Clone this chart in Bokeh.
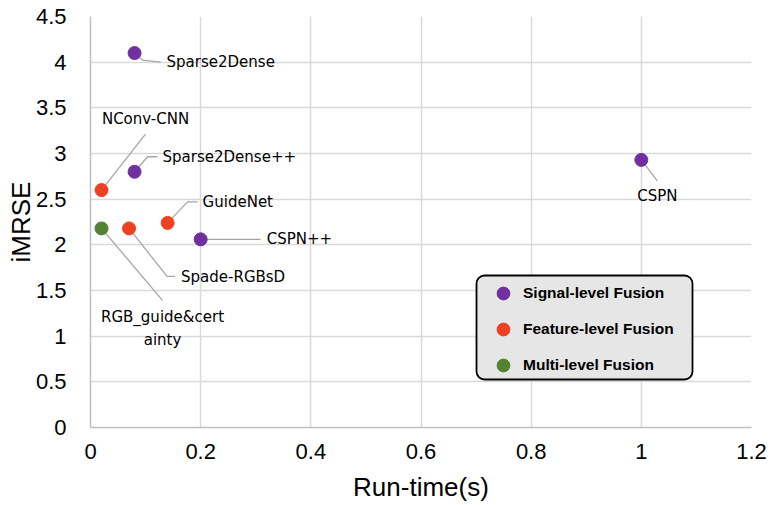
from bokeh.plotting import figure
from bokeh.models import (Legend, LegendItem, BoxAnnotation, FixedTicker, Range1d)
from bokeh.core.properties import value
from bokeh.embed import file_html
from bokeh.resources import INLINE

# ---- data ----
methods = ["Sparse2Dense", "Sparse2Dense++", "CSPN", "CSPN++",
           "NConv-CNN", "GuideNet", "Spade-RGBsD", "RGB_guide&certainty"]
run_time = [0.08, 0.08, 1.0, 0.2, 0.02, 0.14, 0.07, 0.02]
imrse = [4.1, 2.8, 2.93, 2.06, 2.6, 2.24, 2.18, 2.18]
fusion = ["Signal-level Fusion", "Signal-level Fusion", "Signal-level Fusion", "Signal-level Fusion",
          "Feature-level Fusion", "Feature-level Fusion", "Feature-level Fusion", "Multi-level Fusion"]
label_texts = ["Sparse2Dense", "Sparse2Dense++", "CSPN", "CSPN++",
               "NConv-CNN", "GuideNet", "Spade-RGBsD", "RGB_guide&cert\nainty"]
groups = ["Signal-level Fusion", "Feature-level Fusion", "Multi-level Fusion"]
group_colors = ["#7030A0", "#EE4122", "#548235"]
x_ticks = [0, 0.2, 0.4, 0.6, 0.8, 1.0, 1.2]
x_tick_labels = ["0", "0.2", "0.4", "0.6", "0.8", "1", "1.2"]
y_ticks = [0, 0.5, 1, 1.5, 2, 2.5, 3, 3.5, 4, 4.5]
y_tick_labels = ["0", "0.5", "1", "1.5", "2", "2.5", "3", "3.5", "4", "4.5"]

# ---- layout (pixels) ----
W, H = 775, 505
BL, BR, BT, BB = 90, 24, 16, 78
FW, FH = W - BL - BR, H - BT - BB
XMAX, YMAX = 1.2, 4.5
px_x = XMAX / FW
px_y = YMAX / FH

# label layout: leader polyline offsets (px, y down), text offset, align
leader_offsets = {
    "Sparse2Dense": [(0, 0), (8, 7), (26, 9)],
    "Sparse2Dense++": [(0, 0), (13, -15), (23, -15)],
    "CSPN": [(0, 0), (16, 21)],
    "CSPN++": [(0, 0), (60, 0)],
    "NConv-CNN": [(0, 0), (44, -56)],
    "GuideNet": [(0, 0), (20, -21), (30, -21)],
    "Spade-RGBsD": [(0, 0), (38, 48), (46, 48)],
    "RGB_guide&certainty": [(0, 0), (61, 72)],
}
text_offsets = {
    "Sparse2Dense": (32, 9, "left"),
    "Sparse2Dense++": (28, -15, "left"),
    "CSPN": (16, 36, "center"),
    "CSPN++": (66, 0, "left"),
    "NConv-CNN": (44, -71, "center"),
    "GuideNet": (35, -21, "left"),
    "Spade-RGBsD": (52, 49, "left"),
    "RGB_guide&certainty": (61, 100, "center"),
}

p = figure(width=W, height=H, output_backend="svg", toolbar_location=None,
           x_range=Range1d(0, XMAX), y_range=Range1d(0, YMAX),
           min_border_left=BL, min_border_right=BR, min_border_top=BT, min_border_bottom=BB)
p.outline_line_color = None
p.background_fill_color = "white"

for ax, ticks, labels in [(p.xaxis[0], x_ticks, x_tick_labels), (p.yaxis[0], y_ticks, y_tick_labels)]:
    ax.ticker = FixedTicker(ticks=ticks)
    ax.major_label_overrides = {t: l for t, l in zip(ticks, labels)}
    ax.major_tick_line_color = None
    ax.minor_tick_line_color = None
    ax.axis_line_color = "#BFBFBF"
    ax.axis_line_width = 1.5
    ax.major_label_text_font = "Liberation Sans"
    ax.major_label_text_font_size = "22px"
    ax.major_label_text_color = "#000000"
    ax.axis_label_text_font = "Liberation Sans"
    ax.axis_label_text_font_size = "26px"
    ax.axis_label_text_font_style = "normal"
    ax.axis_label_text_color = "#000000"

p.xaxis.axis_label = "Run-time(s)"
p.yaxis.axis_label = "iMRSE"
p.xaxis.major_label_standoff = 10
p.yaxis.major_label_standoff = 18
p.xaxis.axis_label_standoff = 10
p.yaxis.axis_label_standoff = -3

p.grid.grid_line_color = "#D9D9D9"
p.grid.grid_line_width = 1.5
p.xgrid.ticker = FixedTicker(ticks=x_ticks)
p.ygrid.ticker = FixedTicker(ticks=y_ticks)

# leader lines
xs, ys = [], []
for m, x0, y0 in zip(methods, run_time, imrse):
    offs = leader_offsets[m]
    xs.append([x0 + dx * px_x for dx, dy in offs])
    ys.append([y0 - dy * px_y for dx, dy in offs])
p.multi_line(xs, ys, line_color="#A6A6A6", line_width=1.3)

# labels
for m, x0, y0, t in zip(methods, run_time, imrse, label_texts):
    dx, dy, align = text_offsets[m]
    p.text([x0], [y0], text=[t], x_offset=dx, y_offset=dy, text_align=align,
           text_baseline="middle", text_font=value("DejaVu Sans"), text_font_size="15px",
           text_color="#000000", text_line_height=1.25)

# points by group
renderers = []
for g, c in zip(groups, group_colors):
    gx = [x for x, f in zip(run_time, fusion) if f == g]
    gy = [y for y, f in zip(imrse, fusion) if f == g]
    r = p.scatter(gx, gy, size=13, fill_color=c, line_color=c, marker="circle")
    renderers.append(r)

# legend box (rounded)
box = BoxAnnotation(left=386, right=602, bottom=48, top=152,
                    left_units="screen", right_units="screen",
                    top_units="screen", bottom_units="screen",
                    fill_color="#E6E6E6", fill_alpha=1.0,
                    line_color="#000000", line_alpha=1.0, line_width=1.8, border_radius=8)
p.add_layout(box)

legend = Legend(items=[LegendItem(label=g, renderers=[r]) for g, r in zip(groups, renderers)],
                location=(397, 46), orientation="vertical",
                background_fill_alpha=0, border_line_color=None,
                glyph_width=32, glyph_height=32, label_height=32,
                spacing=4, padding=7, margin=0, label_standoff=4,
                label_text_font="Liberation Sans", label_text_font_size="15.5px",
                label_text_font_style="bold", label_text_color="#000000")
p.add_layout(legend, "center")

open("out.html", "w").write(file_html(p, INLINE))
